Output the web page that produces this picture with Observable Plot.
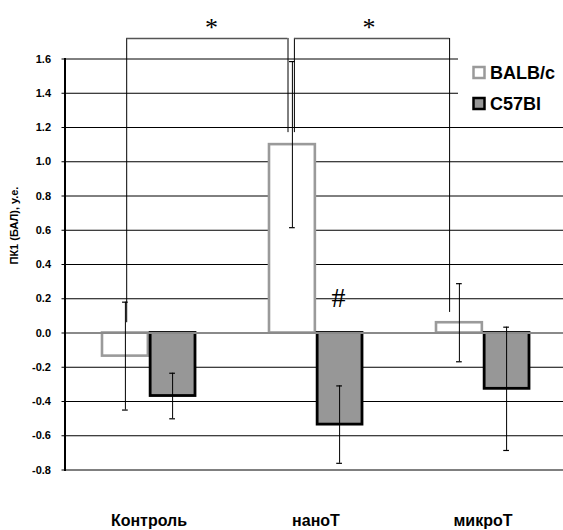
<!DOCTYPE html>
<html>
<head>
<meta charset="utf-8">
<script src="https://cdn.jsdelivr.net/npm/d3@7"></script>
<script src="https://cdn.jsdelivr.net/npm/@observablehq/plot@0.6"></script>
<style>
  body { margin: 0; background: #fff; }
  #wrap { position: relative; width: 563px; height: 530px; font-family: "Liberation Sans", Arial, sans-serif; }
  #legend { position: absolute; left: 458px; top: 48px; width: 105px; height: 72px; background: #fff; }
</style>
</head>
<body>
<div id="wrap"></div>
<script>
// ---- data ----
const categories = ["Контроль", "наноТ", "микроТ"];
const seriesNames = ["BALB/c", "C57Bl"];
const balbMean = [-0.135, 1.10, 0.06];
const balbErr = [0.315, 0.485, 0.228];
const c57Mean = [-0.368, -0.535, -0.326];
const c57Err = [0.133, 0.226, 0.36];
const yTicks = [-0.8, -0.6, -0.4, -0.2, 0.0, 0.2, 0.4, 0.6, 0.8, 1.0, 1.2, 1.4, 1.6];
const yLabel = "ПК1 (БАЛ), у.е.";
// significance brackets
const bracketFrom = ["Контроль", "наноТ"];
const bracketTo = ["наноТ", "микроТ"];
const bracketTop = 1.72;
const bracketLegFromEnd = [0.06, 1.17];
const bracketLegToEnd = [1.17, 0.12];
const bracketMark = ["*", "*"];
const bracketMarkY = 1.785;
const hashCategory = "наноТ";
const hashY = 0.207;
const hashText = "#";

// ---- build tables ----
const balb = categories.map((c, i) => ({category: c, value: balbMean[i], lo: balbMean[i] - balbErr[i], hi: balbMean[i] + balbErr[i]}));
const c57 = categories.map((c, i) => ({category: c, value: c57Mean[i], lo: c57Mean[i] - c57Err[i], hi: c57Mean[i] + c57Err[i]}));

const left = 64.5, right = 566;
const pInner = 0.43, pOuter = 0.215;
const step = (right - left) / 3;
const bw = step * (1 - pInner);
const half = bw / 2;
const off = 23.6; // error-bar offset from band center
const cap = 3;

// bracket leg offsets from band centres (px)
const legOff = [[-22.3, -28], [-21.6, -33.4]];

const serif = "'Liberation Serif', 'Times New Roman', serif";

const bracketMarks = [0, 1].flatMap(k => [
  Plot.ruleX([{x: bracketFrom[k], y1: bracketLegFromEnd[k], y2: bracketTop}], {x: "x", y1: "y1", y2: "y2", dx: legOff[k][0], stroke: "#000", strokeWidth: 1}),
  Plot.ruleX([{x: bracketTo[k], y1: bracketLegToEnd[k], y2: bracketTop}], {x: "x", y1: "y1", y2: "y2", dx: legOff[k][1], stroke: "#000", strokeWidth: 1}),
  Plot.ruleY([{x1: bracketFrom[k], x2: bracketTo[k], y: bracketTop}], {x1: "x1", x2: "x2", y: "y", insetLeft: half + legOff[k][0], insetRight: half - legOff[k][1], stroke: "#555", strokeWidth: 1.4})
]);

const chart = Plot.plot({
  width: 563,
  height: 530,
  marginLeft: 64.5,
  marginRight: 0,
  marginTop: 58.5,
  marginBottom: 60.5,
  style: {fontFamily: "'Liberation Sans', Arial, sans-serif", background: "#fff", overflow: "visible"},
  x: {domain: categories, range: [left, right], paddingInner: pInner, paddingOuter: pOuter, label: null},
  y: {domain: [-0.8, 1.6], label: null},
  marks: [
    Plot.ruleY(yTicks.filter(d => d !== 0), {stroke: "#000", strokeWidth: 1}),
    // bars
    Plot.barY(balb, {x: "category", y: "value", fill: "#fff", stroke: "#9a9a9a", strokeWidth: 2.6, insetLeft: 1, insetRight: half + 0.5}),
    Plot.barY(c57, {x: "category", y: "value", fill: "#979797", stroke: "#000", strokeWidth: 2.8, insetLeft: half + 1.5, insetRight: 1}),
    Plot.ruleY([0], {stroke: "#8a8a8a", strokeWidth: 2}),
    // error bars
    Plot.ruleX(balb, {x: "category", y1: "lo", y2: "hi", dx: -off, stroke: "#000", strokeWidth: 1}),
    Plot.tickY(balb, {x: "category", y: "lo", insetLeft: half - off - cap, insetRight: half + off - cap, stroke: "#000", strokeWidth: 1.2}),
    Plot.tickY(balb, {x: "category", y: "hi", insetLeft: half - off - cap, insetRight: half + off - cap, stroke: "#000", strokeWidth: 1.2}),
    Plot.ruleX(c57, {x: "category", y1: "lo", y2: "hi", dx: off, stroke: "#000", strokeWidth: 1}),
    Plot.tickY(c57, {x: "category", y: "lo", insetLeft: half + off - cap, insetRight: half - off - cap, stroke: "#000", strokeWidth: 1.2}),
    Plot.tickY(c57, {x: "category", y: "hi", insetLeft: half + off - cap, insetRight: half - off - cap, stroke: "#000", strokeWidth: 1.2}),
    // brackets
    ...bracketMarks,
    Plot.text([bracketMark[0]], {x: () => bracketFrom[0], y: () => bracketMarkY, text: d => d, dx: 62.5, fontSize: 26, fontFamily: serif}),
    Plot.text([bracketMark[1]], {x: () => bracketFrom[1], y: () => bracketMarkY, text: d => d, dx: 53, fontSize: 26, fontFamily: serif}),
    // hash
    Plot.text([hashText], {x: () => hashCategory, y: () => hashY, text: d => d, dx: 22.5, fontSize: 28, fontFamily: serif}),
    // axes
    Plot.axisY({ticks: yTicks, tickFormat: d => d.toFixed(1), tickSize: 3, tickPadding: 11, fontSize: 11, fontWeight: "bold", stroke: "#000", label: null}),
    Plot.frame({anchor: "left", stroke: "#000", strokeWidth: 2}),
    Plot.axisX({tickSize: 0, tickPadding: 44.5, fontSize: 16, fontWeight: "bold", label: null}),
    Plot.text([yLabel], {frameAnchor: "left", rotate: -90, dx: -51, text: d => d, fontSize: 11, fontWeight: "bold"})
  ]
});

const wrap = document.getElementById("wrap");
wrap.appendChild(chart);

// legend (inside plot area, as in the reference)
const legend = document.createElement("div");
legend.id = "legend";
const sw = [
  {name: seriesNames[0], fill: "#fff", stroke: "#9a9a9a"},
  {name: seriesNames[1], fill: "#979797", stroke: "#000"}
];
legend.innerHTML = `<svg width="105" height="72" style="font-family:'Liberation Sans', Arial, sans-serif;">
  ${sw.map((s, i) => `<rect x="15.5" y="${19 + i * 31}" width="11" height="11" fill="${s.fill}" stroke="${s.stroke}" stroke-width="2.5"/>
  <text x="32" y="${30.5 + i * 31}" font-size="18" font-weight="bold" fill="#000">${s.name}</text>`).join("")}
</svg>`;
wrap.appendChild(legend);
</script>
</body>
</html>
